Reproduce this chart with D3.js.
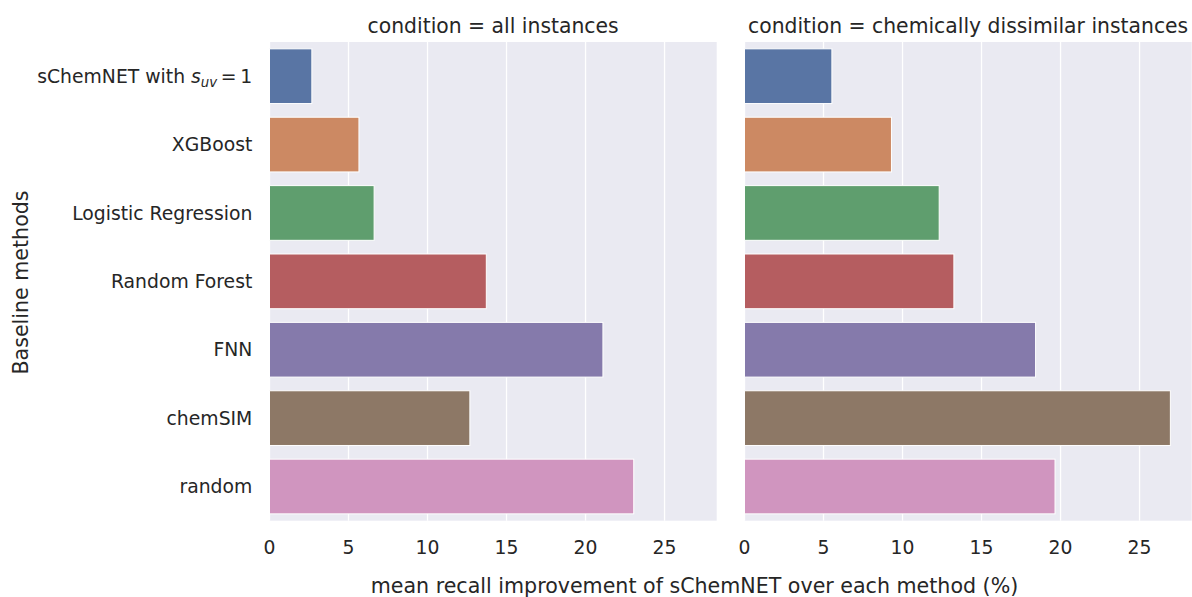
<!DOCTYPE html>
<html>
<head>
<meta charset="utf-8">
<script src="https://cdn.jsdelivr.net/npm/d3@7"></script>
<style>
  html, body { margin: 0; padding: 0; background: #ffffff; }
  svg { display: block; }
  text { font-family: "DejaVu Sans", sans-serif; fill: #262626; }
</style>
</head>
<body>
<svg id="chart" width="1192" height="597"></svg>
<script>
// ---- data ----
const methods = ["sChemNET with s_uv = 1", "XGBoost", "Logistic Regression", "Random Forest", "FNN", "chemSIM", "random"];
const conditions = ["all instances", "chemically dissimilar instances"];
const allInstances = [2.68, 5.66, 6.62, 13.72, 21.1, 12.68, 23.05];
const dissimilarInstances = [5.53, 9.3, 12.32, 13.25, 18.42, 26.95, 19.65];
const xTicks = [0, 5, 10, 15, 20, 25];
const colors = ["#5975a4", "#cc8963", "#5f9e6e", "#b55d60", "#857aab", "#8d7866", "#d095bf"];

const seriesByCondition = [allInstances, dissimilarInstances];

const svg = d3.select("#chart");
const panelLefts = [269.5, 744.5];
const panelWidth = 447.2;
const plotTop = 42, plotBottom = 520.7;
const xMax = 28.3;
const tickSize = "18.8px", labelSize = "20.6px", titleSize = "20.35px";

const y = d3.scaleBand().domain(methods).range([plotTop, plotBottom]).paddingInner(0.2).paddingOuter(0.1);

conditions.forEach((cond, ci) => {
  const left = panelLefts[ci];
  const x = d3.scaleLinear().domain([0, xMax]).range([left, left + panelWidth]);
  const g = svg.append("g");
  g.append("rect").attr("x", left).attr("y", plotTop).attr("width", panelWidth).attr("height", plotBottom - plotTop).attr("fill", "#eaeaf2");
  // grid
  g.selectAll("line.grid").data(xTicks).enter().append("line")
    .attr("x1", d => x(d)).attr("x2", d => x(d)).attr("y1", plotTop).attr("y2", plotBottom)
    .attr("stroke", "#ffffff").attr("stroke-width", 1.3);
  // bars
  g.selectAll("rect.bar").data(seriesByCondition[ci]).enter().append("rect")
    .attr("x", x(0)).attr("y", (d, i) => y(methods[i]))
    .attr("width", d => x(d) - x(0)).attr("height", y.bandwidth())
    .attr("fill", (d, i) => colors[i]).attr("stroke", "#ffffff").attr("stroke-width", 1);
  // x ticks
  g.selectAll("text.xt").data(xTicks).enter().append("text")
    .attr("x", d => x(d)).attr("y", 553.5).attr("text-anchor", "middle")
    .style("font-size", tickSize).text(d => d);
  // title
  g.append("text").attr("x", left + panelWidth / 2).attr("y", 33).attr("text-anchor", "middle")
    .style("font-size", titleSize).text("condition = " + cond);
});

// y tick labels
methods.forEach((m, i) => {
  const t = svg.append("text").attr("x", 252.3).attr("y", y(m) + y.bandwidth() / 2).attr("dy", "0.35em")
    .attr("text-anchor", "end").style("font-size", tickSize);
  if (i === 0) {
    t.append("tspan").text("sChemNET with ");
    t.append("tspan").style("font-style", "italic").text("s");
    t.append("tspan").style("font-style", "italic").style("font-size", "13.3px").attr("dy", "4").text("uv");
    t.append("tspan").attr("dy", "-4").text("\u2009=\u20091");
  } else {
    t.text(m);
  }
});

// axis labels
svg.append("text").attr("x", 694.5).attr("y", 593).attr("text-anchor", "middle")
  .style("font-size", labelSize).text("mean recall improvement of sChemNET over each method (%)");
svg.append("text").attr("transform", "translate(27.5,282.5) rotate(-90)").attr("text-anchor", "middle")
  .style("font-size", labelSize).text("Baseline methods");
</script>
</body>
</html>
